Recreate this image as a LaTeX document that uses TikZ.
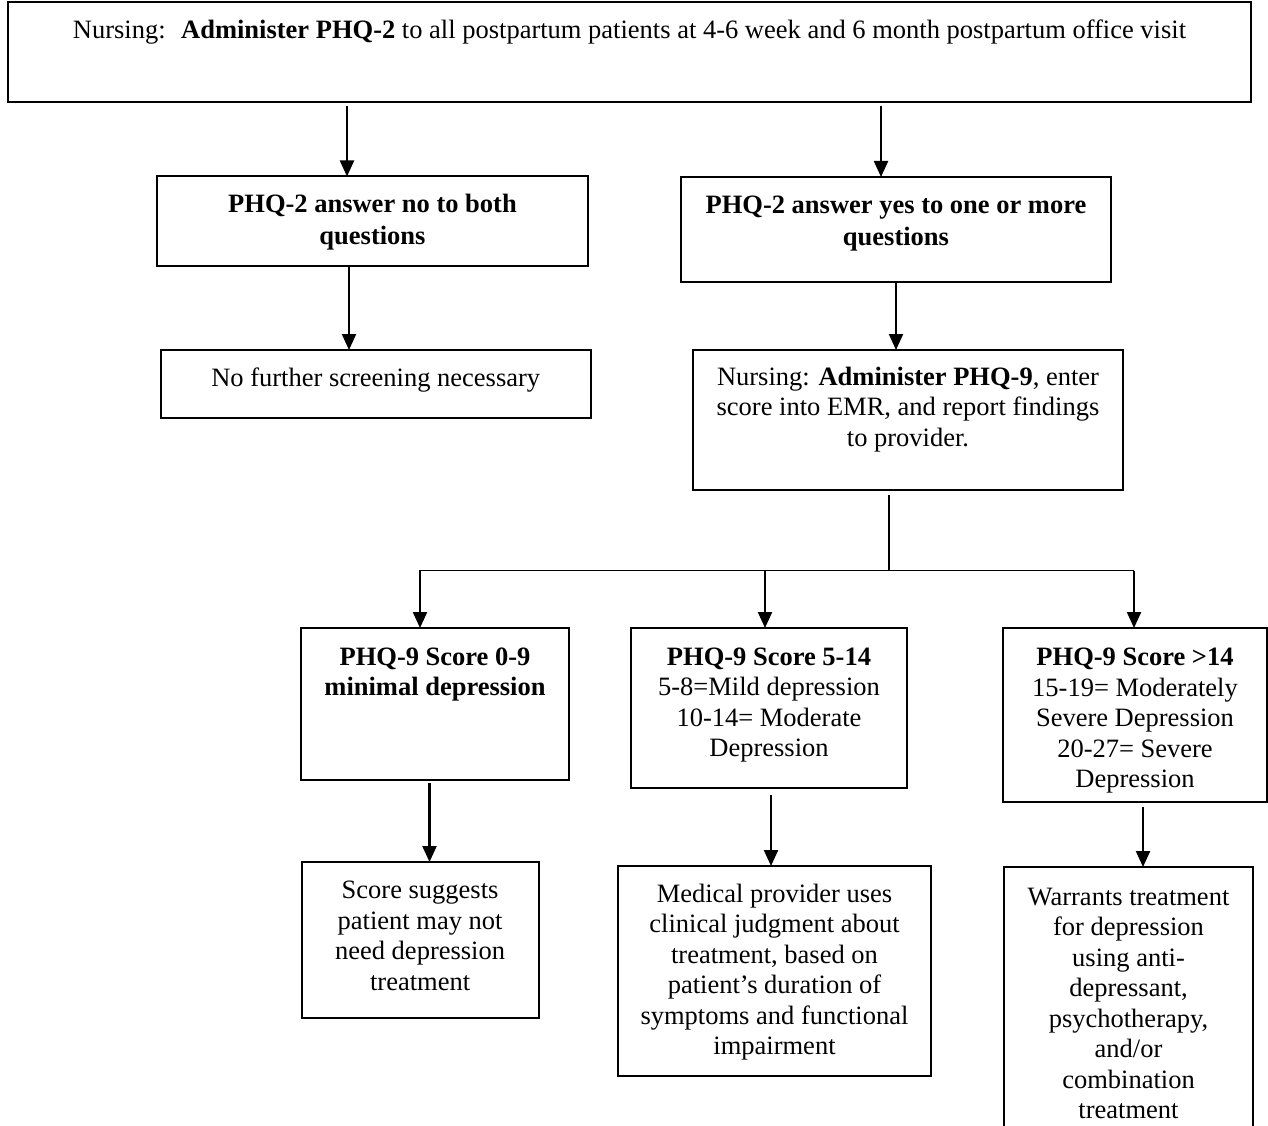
\documentclass[tikz,border=0pt]{standalone}
\usepackage{fontspec}
\setmainfont{Liberation Serif}
\usetikzlibrary{arrows.meta,calc}

% Fixed-size text box: width, height, first baseline below the top edge, text
\newcommand{\flowtext}[4]{%
  \parbox[c][#2pt][t]{#1pt}{\centering
    \vspace*{\dimexpr#3pt-\ht\strutbox\relax}\strut#4\par}}

\begin{document}
\begin{tikzpicture}[x=1pt,y=-1pt,
  flowbox/.style={draw, line width=2pt, inner sep=0pt, outer sep=0pt,
    font=\fontsize{26.5}{30.5}\selectfont},
  headbox/.style={flowbox, font=\fontsize{26.5}{31.5}\selectfont},
  openbox/.style={inner sep=0pt, outer sep=0pt,
    font=\fontsize{26.5}{30.5}\selectfont},
  boxline/.style={line width=2pt},
  arr/.style={line width=2.2pt, -{Triangle[width=14pt,length=16pt]}},
  thinline/.style={line width=1.4pt}]

\useasboundingbox (0,0) rectangle (1268,1126);

% Screening step
\node[flowbox] (top) at (629.5,52.25)
  {\flowtext{1243}{100.5}{37}{Nursing:~ \textbf{Administer PHQ-2} to all postpartum patients at 4-6 week and 6 month postpartum office visit}};

% PHQ-2 outcomes
\node[headbox] (nob) at (372.5,221.25)
  {\flowtext{431}{89.5}{36}{\textbf{PHQ-2 answer no to both\\questions}}};
\node[headbox] (yes) at (896,229.5)
  {\flowtext{430}{105}{37}{\textbf{PHQ-2 answer yes to one or more\\questions}}};
\node[flowbox] (nof) at (375.75,383.75)
  {\flowtext{430.5}{67.5}{36.5}{No further screening necessary}};
\node[flowbox] (n9) at (908,419.75)
  {\flowtext{430}{139.5}{35}{Nursing: \textbf{Administer PHQ-9}, enter\\score into EMR, and report findings\\to provider.}};

% PHQ-9 score bands
\node[flowbox] (s09) at (435,704)
  {\flowtext{268}{152}{37}{\textbf{PHQ-9 Score 0-9}\\\textbf{minimal depression}}};
\node[flowbox] (s514) at (769,708)
  {\flowtext{276}{160}{37}{\textbf{PHQ-9 Score 5-14}\\5-8=Mild depression\\10-14= Moderate\\Depression}};
\node[flowbox] (sgt) at (1135,715)
  {\flowtext{264}{174}{37.5}{\textbf{PHQ-9 Score >14}\\15-19= Moderately\\Severe Depression\\20-27= Severe\\Depression}};

% Recommended actions
\node[flowbox] (sug) at (420.1,939.85)
  {\flowtext{237.2}{155.7}{36.5}{Score suggests\\patient may not\\need depression\\treatment}};
\node[flowbox] (med) at (774.5,971)
  {\flowtext{313}{210}{36}{Medical provider uses\\clinical judgment about\\treatment, based on\\patient’s duration of\\symptoms and functional\\impairment}};
\node[openbox] (war) at (1128.5,996.5)
  {\flowtext{249}{259}{38}{Warrants treatment\\for depression\\using anti-\\depressant,\\psychotherapy,\\and/or\\combination\\treatment}};
\draw[boxline] (war.south west) -- (war.north west) -- (war.north east) -- (war.south east);

% Connectors
\draw[arr] ($(top.south west)+(339,3.5)$) -- ($(nob.north west)+(190,0)$);
\draw[arr] ($(top.south west)+(873,3.5)$) -- ($(yes.north west)+(200,0)$);
\draw[arr] ($(nob.south west)+(192,0)$) -- ($(nof.north west)+(188.5,0)$);
\draw[arr] ($(yes.south west)+(215,0)$) -- ($(n9.north west)+(203,0)$);

% Branching bus below the PHQ-9 step
\coordinate (bus) at (889,570.7);
\coordinate (b1) at (420,570.7);
\coordinate (b2) at (765,570.7);
\coordinate (b3) at (1134,570.7);
\draw[thinline] ($(n9.south west)+(196,5.5)$) -- (bus);
\draw[thinline] ($(b1)+(-1,0)$) -- (b3);
\draw[arr] (b1) -- ($(s09.north west)+(119,0)$);
\draw[arr] (b2) -- ($(s514.north west)+(134,0)$);
\draw[arr] (b3) -- ($(sgt.north west)+(131,0)$);

\draw[arr] ($(s09.south west)+(128.5,3)$) -- ($(sug.north west)+(128,0)$);
\draw[arr] ($(s514.south west)+(140,7)$) -- ($(med.north west)+(153,0)$);
\draw[arr] ($(sgt.south west)+(140,5)$) -- ($(war.north west)+(139,0)$);

\end{tikzpicture}
\end{document}
